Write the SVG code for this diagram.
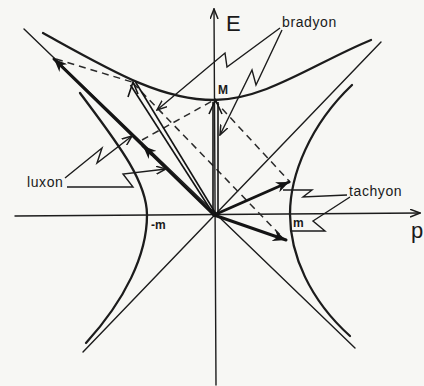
<svg xmlns="http://www.w3.org/2000/svg" width="424" height="386" viewBox="0 0 424 386">
<style>
.thin{stroke:#1c1c1c;stroke-width:1.4;fill:none;stroke-linecap:round}
.curve{stroke:#1c1c1c;stroke-width:2.3;fill:none;stroke-linecap:round}
.vec{stroke:#141414;stroke-width:3;fill:none;stroke-linecap:round}
.dbl{stroke:#141414;stroke-width:1.6;fill:none}
.dash{stroke:#2a2a2a;stroke-width:1.5;fill:none;stroke-dasharray:7 5}
.ptr{stroke:#1c1c1c;stroke-width:1.4;fill:none;stroke-linejoin:miter}
.lbl{font-family:"Liberation Sans",Arial,sans-serif;font-size:14px;fill:#1a1a1a;letter-spacing:0.6px}
.sm{font-family:"Liberation Sans",Arial,sans-serif;font-size:12px;font-weight:bold;fill:#1a1a1a}
.big{font-family:"Liberation Sans",Arial,sans-serif;font-size:22px;fill:#1a1a1a}
</style>
<defs>
<marker id="ah" markerUnits="userSpaceOnUse" markerWidth="11" markerHeight="9" viewBox="0 0 11 9" refX="10" refY="4.5" orient="auto">
<path d="M0,0.5 L10,4.5 L0,8.5" fill="none" stroke="#1c1c1c" stroke-width="1.5"/>
</marker>
<marker id="ahT" markerUnits="userSpaceOnUse" markerWidth="14" markerHeight="11" viewBox="0 0 14 11" refX="13" refY="5.5" orient="auto">
<path d="M0,0 L13,5.5 L0,11 L4,5.5 Z" fill="#141414"/>
</marker>
</defs>
<rect width="424" height="386" fill="#f7f7f4"/>

<g id="axes">
<line class="thin" x1="15" y1="216" x2="420" y2="213" marker-end="url(#ah)"/>
<line class="thin" x1="216" y1="385" x2="214" y2="9" marker-end="url(#ah)"/>
</g>

<g id="light-cone">
<line class="thin" x1="24" y1="29" x2="355" y2="348"/>
<line class="thin" x1="381" y1="42" x2="83" y2="352"/>
</g>

<g id="hyperbolas">
<path class="curve" d="M43,33 C110,70 160,100 214,100 C265,100 315,63 371,40"/>
<path class="curve" d="M80,93 C115,140 147,180 147,215 C147,255 125,300 86,343"/>
<path class="curve" d="M352,85 C310,125 290,175 290,214 C290,255 310,300 350,336"/>
</g>

<g id="connectors">
<g id="dashed">
<line class="dash" x1="56" y1="59" x2="132" y2="82"/>
<line class="dash" x1="133" y1="83" x2="285" y2="240"/>
<line class="dash" x1="214" y1="100" x2="290" y2="182"/>
<line class="dash" x1="142" y1="140" x2="214" y2="100"/>
</g>
<g id="vectors">
<line class="vec" x1="214" y1="215" x2="54" y2="59" marker-end="url(#ahT)"/>
<path class="vec" d="M152,154.5 L143,146" marker-end="url(#ahT)"/>
<line class="dbl" x1="214" y1="215" x2="130.5" y2="85"/>
<line class="dbl" x1="216" y1="214" x2="135.5" y2="82"/>
<path class="dbl" d="M138,94 L133,82 L128,97" stroke-width="2"/>
<line class="dbl" x1="213" y1="215" x2="213" y2="102"/>
<line class="dbl" x1="218" y1="215" x2="218" y2="102"/>
<path class="dbl" d="M209,114 L215.5,100 L222,114" stroke-width="2"/>
<line class="vec" x1="214" y1="215" x2="289" y2="182" marker-end="url(#ahT)"/>
<line class="vec" x1="214" y1="215" x2="286" y2="240" marker-end="url(#ahT)"/>
</g>
<g id="pointers">
<path class="ptr" d="M65,178 L102,148 L97,163 L132,136" marker-end="url(#ah)"/>
<path class="ptr" d="M67,187 L133,187 L123,174 L166,169" marker-end="url(#ah)"/>
<path class="ptr" d="M280,28 L227,67 L225,53 L157,110" marker-end="url(#ah)"/>
<path class="ptr" d="M282,30 L256,85 L252,70 L220,135" marker-end="url(#ah)"/>
<path class="ptr" d="M347,195 L303,197 L312,190 L283,190"/>
<path class="ptr" d="M350,197 L313,221 L325,231 L290,231"/>
</g>
</g>

<g id="label-E"><text class="big" x="226" y="31">E</text></g>
<g id="label-p"><text class="big" x="411" y="238">p</text></g>
<g id="label-M"><text class="sm" x="218" y="94">M</text></g>
<g id="label-negm"><text class="sm" x="151" y="229">-m</text></g>
<g id="label-m"><text class="sm" x="293" y="227">m</text></g>
<g id="label-bradyon"><text class="lbl" x="282" y="27">bradyon</text></g>
<g id="label-luxon"><text class="lbl" x="27" y="187">luxon</text></g>
<g id="label-tachyon"><text class="lbl" x="349" y="196">tachyon</text></g>
</svg>
